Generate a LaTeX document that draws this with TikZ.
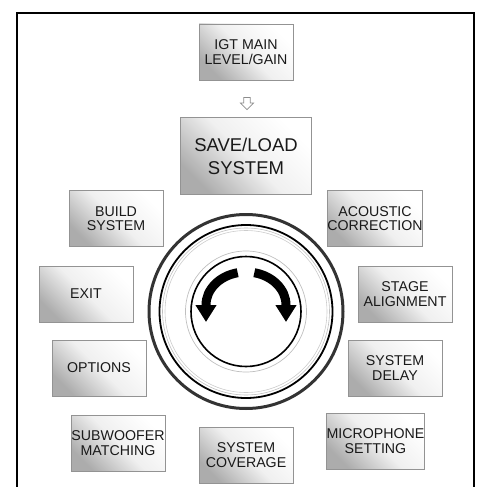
\documentclass[tikz,border=0pt]{standalone}
\usepackage{fontspec}
\setmainfont{Liberation Sans}
\usetikzlibrary{positioning,arrows.meta,shapes.arrows}

\tikzset{
  menubox/.style={draw=gray!85, line width=0.8pt, minimum width=94pt, minimum height=56pt,
    inner sep=0pt, align=center, text=black!90,
    font=\fontsize{14.2}{14.5}\selectfont,
    top color=white, bottom color=gray!65, middle color=white!88!gray, shading angle=-45},
  bigbox/.style={menubox, minimum width=131pt, minimum height=77pt,
    font=\fontsize{18.5}{23}\selectfont},
  turnarrow/.style={line width=9pt, -{Triangle[width=20pt,length=17pt]}}
}

\begin{document}
\begin{tikzpicture}[x=1pt, y=1pt]
      \useasboundingbox (0,0) rectangle (479,-487);
      \draw[line width=2.5pt] (17,-487) -- (17,-13) -- (474,-13) -- (474,-487);
      \node[menubox] (igt) at (246,-52) {IGT MAIN\\LEVEL/GAIN};
      \node[bigbox, below=37pt of igt] (save) {SAVE/LOAD\\SYSTEM};
      \node[single arrow, draw=gray!90, fill=white, line width=0.8pt, shape border rotate=270,
        minimum height=12pt, minimum width=13pt, single arrow head extend=3pt,
        inner sep=2.5pt] (down) at (247,-102) {};
      \node[menubox] (build) at (116,-218.5) {BUILD\\SYSTEM};
      \node[menubox] (acoustic) at (375,-218.5) {ACOUSTIC\\CORRECTION};
      \node[menubox] (exit) at (86,-294) {EXIT};
      \node[menubox] (stage) at (405,-294) {STAGE\\ALIGNMENT};
      \node[menubox] (options) at (99,-368) {OPTIONS};
      \node[menubox] (delay) at (395,-368) {SYSTEM\\DELAY};
      \node[menubox] (subwoofer) at (118,-443) {SUBWOOFER\\MATCHING};
      \node[menubox] (coverage) at (246,-455) {SYSTEM\\COVERAGE};
      \node[menubox] (microphone) at (375.5,-441) {MICROPHONE\\SETTING};
      \coordinate (knob) at (246,-311.5);
      \coordinate (pivot) at (246,-305);
      \draw[black!80, line width=3pt] (knob) circle[radius=97];
      \draw[black, line width=1.8pt] (knob) circle[radius=86.5];
      \draw[gray!50, line width=0.6pt] (knob) circle[radius=83.5];
      \draw[gray!40, line width=0.6pt] (knob) circle[radius=81];
      \draw[gray!50, line width=0.7pt] (knob) circle[radius=60.5];
      \draw[black, line width=1.6pt] (knob) circle[radius=55];
      \draw[turnarrow] (pivot) ++(102:40 and 33)
        arc[start angle=102, end angle=180, x radius=40, y radius=33] -- ++(0,-17);
      \draw[turnarrow] (pivot) ++(78:40 and 33)
        arc[start angle=78, end angle=0, x radius=40, y radius=33] -- ++(0,-17);
    \end{tikzpicture}
\end{document}
